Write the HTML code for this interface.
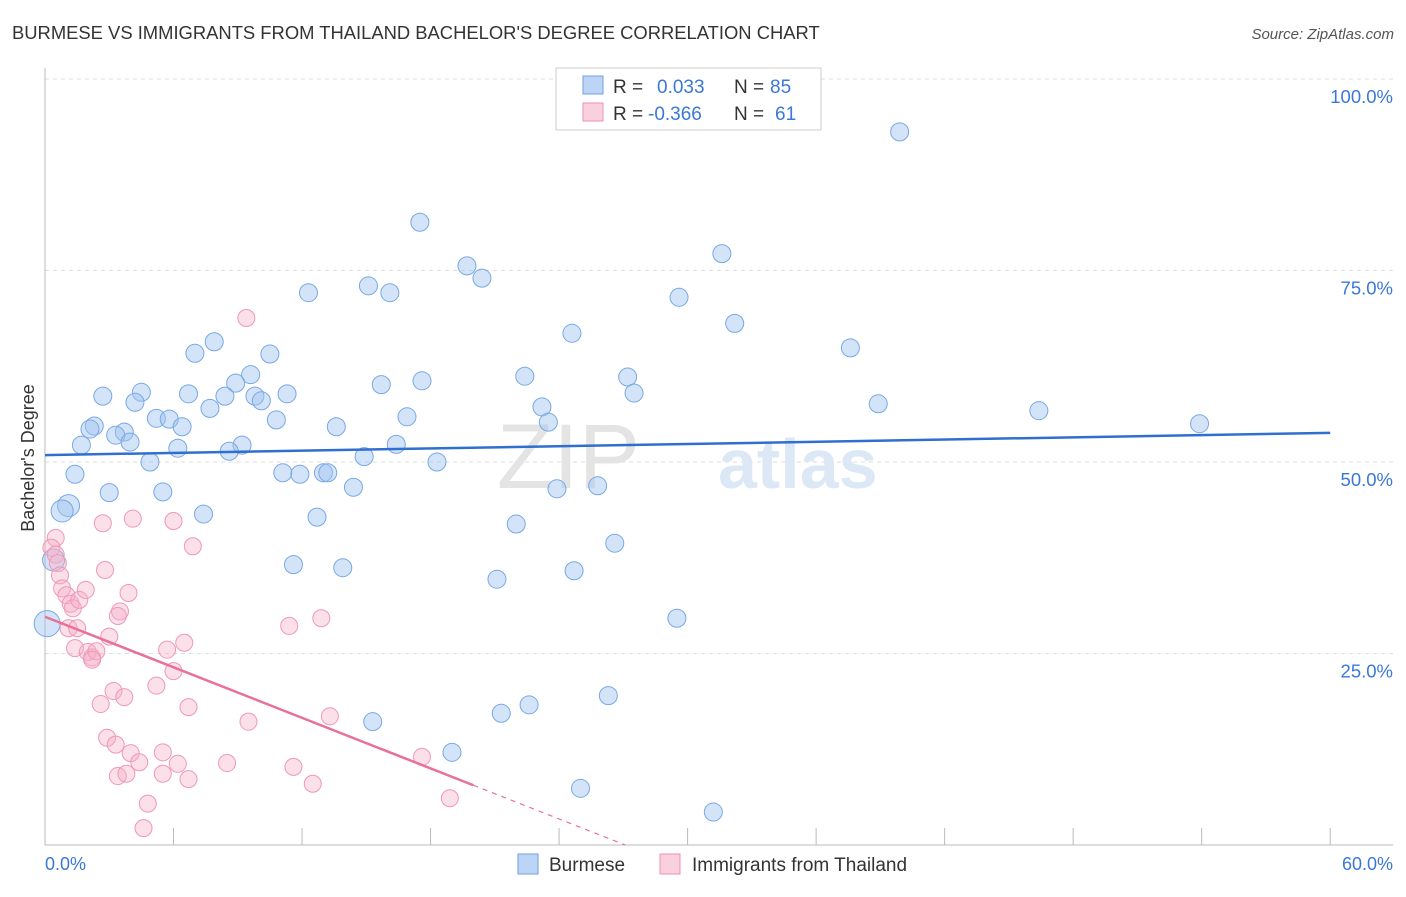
<!DOCTYPE html>
<html><head><meta charset="utf-8"><style>
body{margin:0;background:#fff;font-family:"Liberation Sans",sans-serif}
svg text{font-family:"Liberation Sans",sans-serif}
</style></head><body>
<svg id="chart" width="1406" height="892" xmlns="http://www.w3.org/2000/svg">
<text x="12" y="39" font-size="18.4" fill="#333">BURMESE VS IMMIGRANTS FROM THAILAND BACHELOR'S DEGREE CORRELATION CHART</text>
<text x="1394" y="39" font-size="15" fill="#555" font-style="italic" text-anchor="end">Source: ZipAtlas.com</text>
<g id="grid"></g>
<text x="640" y="488" font-size="92" fill="#e4e4e4" font-family="Liberation Serif" text-anchor="end">ZIP</text>
<text x="718" y="488" font-size="70" fill="#dce8f6" font-weight="bold">atlas</text>
<g id="points"></g>
<g id="lines"></g>
<text x="34" y="458" font-size="18" fill="#333" text-anchor="middle" transform="rotate(-90 34 458)">Bachelor's Degree</text>
<text x="45" y="870" font-size="18" fill="#3a78d6">0.0%</text>
<text x="1393" y="870" font-size="18" fill="#3a78d6" text-anchor="end">60.0%</text>
<g>
<rect x="556" y="68" width="265" height="62" fill="#fff" stroke="#ccc"/>
<rect x="583" y="76" width="20" height="18" fill="#bcd5f6" stroke="#6fa0e0"/>
<rect x="583" y="103" width="20" height="18" fill="#fbd0de" stroke="#ee90b0"/>
<text x="613" y="93" font-size="19" fill="#333">R = </text><text x="657" y="93" font-size="19" fill="#3a78d6">0.033</text>
<text x="734" y="93" font-size="19" fill="#333">N = </text><text x="770" y="93" font-size="19" fill="#3a78d6">85</text>
<text x="613" y="120" font-size="19" fill="#333">R = </text><text x="648" y="120" font-size="19" fill="#3a78d6">-0.366</text>
<text x="734" y="120" font-size="19" fill="#333">N = </text><text x="775" y="120" font-size="19" fill="#3a78d6">61</text>
</g>
<g>
<rect x="518" y="854" width="20" height="20" fill="#bcd5f6" stroke="#6fa0e0"/>
<text x="549" y="871" font-size="19" fill="#333">Burmese</text>
<rect x="660" y="854" width="20" height="20" fill="#fbd0de" stroke="#ee90b0"/>
<text x="692" y="871" font-size="19" fill="#333">Immigrants from Thailand</text>
</g>
</svg>
<script>
const blueX=[39.9,17.5,31.6,19.7,20.4,15.1,16.1,12.3,29.6,32.2,24.6,37.6,7.9,7.0,10.5,9.6,8.9,22.4,27.2,17.6,15.7,2.7,4.5,6.7,8.4,9.8,10.1,11.3,27.5,4.2,7.7,38.9,46.4,23.2,16.9,5.2,5.8,10.8,23.5,53.9,2.3,6.4,13.6,2.1,3.7,3.3,3.97,1.7,6.2,9.2,8.6,16.4,14.9,4.9,18.3,1.4,11.1,11.9,13.0,13.2,14.4,23.9,25.8,3.0,5.5,1.1,0.8,7.4,12.7,22.0,26.6,0.4,11.6,13.9,24.7,21.1,29.5,0.1,26.3,22.6,21.3,15.3,19.0,25.0,31.2];
const blueY=[93.1,81.3,77.2,75.6,74.0,73.0,72.1,72.1,71.5,68.1,66.8,64.9,65.7,64.2,64.1,61.4,60.3,61.2,61.1,60.6,60.1,58.6,59.1,58.9,58.6,58.6,58.0,58.9,59.0,57.8,57.0,57.6,56.7,57.2,55.9,55.7,55.6,55.5,55.2,55.0,54.7,54.6,54.6,54.3,53.9,53.5,52.6,52.2,51.8,52.2,51.4,52.3,50.7,50.0,50.0,48.4,48.6,48.4,48.6,48.6,46.7,46.5,46.9,46.0,46.1,44.3,43.6,43.2,42.8,41.9,39.4,37.2,36.6,36.2,35.8,34.7,29.6,28.9,19.5,18.3,17.2,16.1,12.1,7.4,4.3];
const pinkX=[9.4,0.5,0.3,0.5,0.6,0.7,0.8,1.0,1.2,1.3,1.6,1.9,1.1,1.5,1.4,2.0,2.2,2.4,2.2,3.0,2.7,2.8,4.1,6.0,6.9,3.9,3.5,3.4,6.5,5.7,6.0,5.2,3.2,3.7,2.6,6.7,11.4,12.9,9.5,13.3,2.9,3.3,4.0,5.5,4.4,6.2,8.5,11.6,17.6,3.4,3.8,5.5,6.7,12.5,18.9,4.8,4.6];
const pinkY=[68.8,40.1,38.8,37.9,36.8,35.2,33.5,32.6,31.5,30.9,32.0,33.3,28.3,28.3,25.7,25.2,24.5,25.3,24.2,27.2,42.0,35.9,42.6,42.3,39.0,32.9,30.5,29.9,26.4,25.5,22.7,20.8,20.1,19.3,18.4,18.0,28.6,29.6,16.1,16.8,14.0,13.1,12.0,12.1,10.8,10.6,10.7,10.2,11.5,9.0,9.3,9.3,8.6,8.0,6.1,5.4,2.2];
const yTicks=[25,50,75,100];
const yTickLabels=["25.0%","50.0%","75.0%","100.0%"];
const xTicks=[0,6,12,18,24,30,36,42,48,54,60];
const blueTrend=[50.9,53.8];
const pinkTrend=[29.8,18.8];

const X=v=>45+v*21.42, Y=v=>845-v*7.66;
const NS="http://www.w3.org/2000/svg";
function mk(tag,attrs,parent){const e=document.createElementNS(NS,tag);for(const k in attrs)e.setAttribute(k,attrs[k]);parent.appendChild(e);return e;}
const g=document.getElementById('grid');
yTicks.forEach((t,i)=>{
  const l=mk('line',{x1:45,x2:1393,y1:Y(t),y2:Y(t),stroke:'#ddd','stroke-dasharray':'4,4'},g);
  
  
  const tx=mk('text',{x:1393,y:Y(t)+24,'font-size':18.5,fill:'#3a78d6','text-anchor':'end'},g);
  tx.textContent=yTickLabels[i];
  
  
});
const ax=mk('line',{x1:45,x2:1393,y1:845,y2:845,stroke:'#bbb'},g);


const ay=mk('line',{x1:45,x2:45,y1:68,y2:845,stroke:'#bbb'},g);


xTicks.forEach(t=>{
  const l=mk('line',{x1:X(t),x2:X(t),y1:828,y2:845,stroke:'#bbb'},g);
  
  
});
const p=document.getElementById('points');
function big(x,y){return (x<1.2&&y>28&&y<45)? (x<0.2?13:11):9;}
blueX.forEach((x,i)=>{
  const c=mk('circle',{cx:X(x),cy:Y(blueY[i]),r:big(x,blueY[i]),fill:'rgba(160,195,240,0.45)',stroke:'#78a8e4','stroke-width':1},p);
  
  
});
pinkX.forEach((x,i)=>{
  const c=mk('circle',{cx:X(x),cy:Y(pinkY[i]),r:8.5,fill:'rgba(245,175,200,0.4)',stroke:'#f098b6','stroke-width':1},p);
  
  
});
const L=document.getElementById('lines');
const bl=mk('line',{x1:X(0),y1:Y(blueTrend[0]),x2:X(60),y2:Y(blueTrend[1]),stroke:'#2f6fd0','stroke-width':2.5},L);


const slope=(pinkTrend[1]-pinkTrend[0])/10;
const pe=20, pz=-pinkTrend[0]/slope;
const pl=mk('line',{x1:X(0),y1:Y(pinkTrend[0]),x2:X(pe),y2:Y(pinkTrend[0]+slope*pe),stroke:'#e8709a','stroke-width':2.5},L);


const pd=mk('line',{x1:X(pe),y1:Y(pinkTrend[0]+slope*pe),x2:X(pz),y2:Y(0),stroke:'#e8709a','stroke-width':1.2,'stroke-dasharray':'5,5'},L);


</script>
</body></html>
